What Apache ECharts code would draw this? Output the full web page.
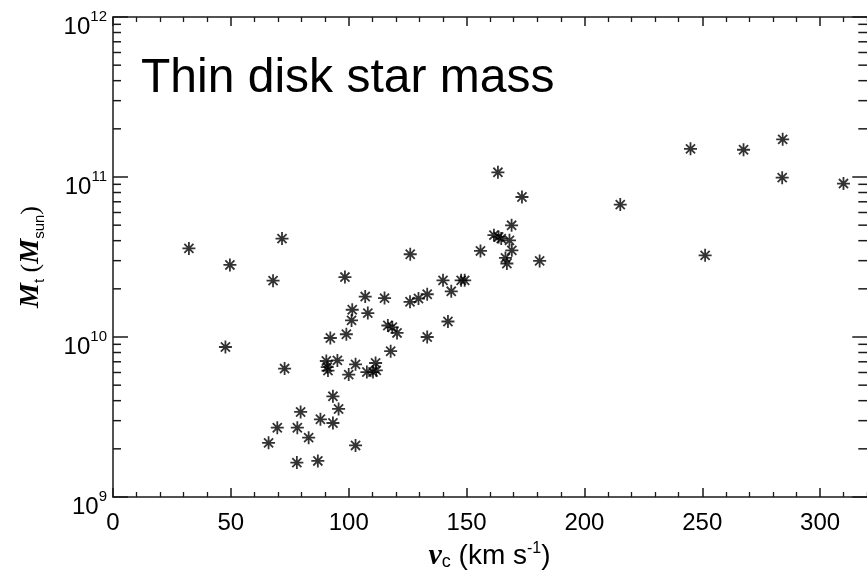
<!DOCTYPE html>
<html>
<head>
<meta charset="utf-8">
<script src="https://cdn.jsdelivr.net/npm/echarts@6/dist/echarts.min.js"></script>
<style>
html, body { margin: 0; padding: 0; background: #fff; }
#main { width: 867px; height: 574px; }
</style>
</head>
<body>
<div id="main"></div>
<script>
// circular velocity v_c (km/s)
var vc = [32.2, 47.7, 49.6, 66.0, 67.9, 69.7, 71.7, 72.8, 78.0, 78.2, 79.6, 83.0, 86.9, 88.0,
    90.5, 90.9, 91.2, 92.2, 93.3, 93.3, 95.2, 95.7, 98.4, 99.0, 100.0, 101.2, 101.5, 102.9, 102.9,
    107.0, 107.7, 108.1, 110.3, 111.4, 111.7, 115.2, 116.6, 117.8, 118.5, 120.5, 126.0, 126.1,
    129.6, 133.3, 133.3, 140.0, 142.1, 143.5, 147.7, 149.2, 155.9, 161.6, 163.3, 163.6, 164.7,
    166.5, 167.1, 168.2, 169.1, 169.2, 173.5, 181.0, 215.2, 245.0, 251.2, 267.5, 283.9, 284.1, 309.9];
// thin disk star mass (M_sun)
var mass = [3.58e10, 8.66e9, 2.82e10, 2.18e9, 2.25e10, 2.71e9, 4.12e10, 6.35e9, 1.64e9, 2.71e9,
    3.40e9, 2.35e9, 1.68e9, 3.06e9, 7.08e9, 6.49e9, 6.17e9, 9.86e9, 4.26e9, 2.90e9, 7.14e9, 3.55e9,
    2.37e10, 1.04e10, 5.82e9, 1.27e10, 1.48e10, 6.75e9, 2.10e9, 1.79e10, 6.04e9, 1.41e10, 6.04e9,
    6.88e9, 6.19e9, 1.75e10, 1.18e10, 8.15e9, 1.15e10, 1.06e10, 1.66e10, 3.29e10, 1.74e10, 1.85e10,
    1.00e10, 2.26e10, 1.25e10, 1.93e10, 2.26e10, 2.26e10, 3.45e10, 4.33e10, 1.07e11, 4.22e10,
    4.12e10, 3.12e10, 2.88e10, 4.02e10, 4.99e10, 3.48e10, 7.50e10, 2.99e10, 6.72e10, 1.50e11,
    3.24e10, 1.48e11, 9.91e10, 1.72e11, 9.10e10];

var decades = [9, 10, 11, 12];
var minorSteps = [2, 3, 4, 5, 6, 7, 8, 9];
var xRight = 320;   // where the right frame sits

var points = vc.map(function (v, i) { return [v, mass[i]]; });

// log ticks ECharts can't do by itself: 2..9 x 10^n on both sides, decades on the right
var tickMarks = [];
decades.forEach(function (d) {
    tickMarks.push([0, Math.pow(10, d), 1]);
    if (d < 12) {
        minorSteps.forEach(function (k) { tickMarks.push([0, k * Math.pow(10, d), 0]); });
    }
});

var ink = '#1a1a1a';
var sans = 'Liberation Sans, Arial, sans-serif';
var serif = 'Liberation Serif, Times New Roman, serif';

var myChart = echarts.init(document.getElementById('main'));

var xTick = {
    type: 'value',
    min: 0,
    max: 350,
    interval: 50,
    axisLine: { show: true, lineStyle: { color: ink, width: 1.5 } },
    axisTick: { inside: true, length: 9, lineStyle: { color: ink, width: 1.5 } },
    minorTick: { show: true, splitNumber: 5, length: 5, lineStyle: { color: ink, width: 1.3 } },
    splitLine: { show: false }
};

myChart.setOption({
    animation: false,
    backgroundColor: '#fff',
    title: {
        text: 'Thin disk star mass',
        left: 141,
        top: 55,
        padding: 0,
        textStyle: { fontFamily: sans, fontSize: 48, fontWeight: 'normal', color: '#000' }
    },
    grid: { left: 113, top: 17, width: 825, height: 480, containLabel: false, outerBoundsMode: 'none' },
    xAxis: [
        echarts.util.merge({
            position: 'bottom',
            name: '{v|v}{c|c}{t| (km s}{e|-1}{t|)}',
            nameLocation: 'middle',
            nameGap: 44,
            nameTextStyle: {
                // axis runs past the frame (to 350), so pull the name back to the visible middle
                padding: [0, 72, 0, 0],
                rich: {
                    v: { fontFamily: serif, fontStyle: 'italic', fontWeight: 'bold', fontSize: 30, lineHeight: 30, color: '#000' },
                    c: { fontFamily: sans, fontSize: 18, lineHeight: 18, verticalAlign: 'bottom', color: '#000' },
                    t: { fontFamily: sans, fontSize: 28, lineHeight: 30, color: '#000' },
                    e: { fontFamily: sans, fontSize: 16, lineHeight: 16, verticalAlign: 'top', color: '#000' }
                }
            },
            axisLabel: { margin: 14, fontFamily: sans, fontSize: 24, color: '#000', showMaxLabel: false }
        }, xTick, true),
        echarts.util.merge({ position: 'top', axisLabel: { show: false } }, xTick, true)
    ],
    yAxis: [{
        type: 'log',
        logBase: 10,
        min: 1e9,
        max: 1e12,
        splitNumber: 3,
        position: 'left',
        name: '{m|M}{s|t}{p| (}{m|M}{s|sun}{p|)}',
        nameLocation: 'middle',
        nameGap: 66,
        nameTextStyle: {
            rich: {
                m: { fontFamily: serif, fontStyle: 'italic', fontWeight: 'bold', fontSize: 28, lineHeight: 32, color: '#000' },
                s: { fontFamily: sans, fontSize: 15, lineHeight: 15, verticalAlign: 'bottom', color: '#000' },
                p: { fontFamily: serif, fontSize: 26, lineHeight: 32, color: '#000' }
            }
        },
        axisLine: { show: true, lineStyle: { color: ink, width: 1.5 } },
        axisTick: { inside: true, length: 15, lineStyle: { color: ink, width: 1.5 } },
        splitLine: { show: false },
        axisLabel: {
            margin: 6,
            padding: [14, 0, 0, 0],
            formatter: function (val) {
                return '{b|10}{s|' + Math.round(Math.log10(val)) + '}';
            },
            rich: {
                b: { fontFamily: sans, fontSize: 24, lineHeight: 30, verticalAlign: 'bottom', color: '#000' },
                s: { fontFamily: sans, fontSize: 15, lineHeight: 15, verticalAlign: 'top', color: '#000' }
            }
        }
    }],
    series: [
        {
            type: 'scatter',
            data: points,
            symbol: 'path://M0,-10L0,10M-10,0L10,0M-7,-7L7,7M-7,7L7,-7',
            symbolSize: 13,
            itemStyle: { color: '#000', borderColor: '#000', borderWidth: 1.8 },
            emphasis: { disabled: true },
            silent: true,
            z: 3
        },
        {
            type: 'custom',
            data: tickMarks,
            silent: true,
            renderItem: function (params, api) {
                var val = api.value(1);
                var major = api.value(2);
                var l = api.coord([0, val]);
                var r = api.coord([xRight, val]);
                var st = { stroke: ink, lineWidth: 1.5 };
                var kids = [{
                    type: 'line',
                    shape: { x1: r[0] - (major ? 15 : 9), y1: r[1], x2: r[0], y2: r[1] },
                    style: st
                }];
                if (!major) {
                    kids.push({
                        type: 'line',
                        shape: { x1: l[0], y1: l[1], x2: l[0] + 8, y2: l[1] },
                        style: st
                    });
                }
                return { type: 'group', children: kids };
            },
            z: 2
        }
    ]
});
</script>
</body>
</html>
